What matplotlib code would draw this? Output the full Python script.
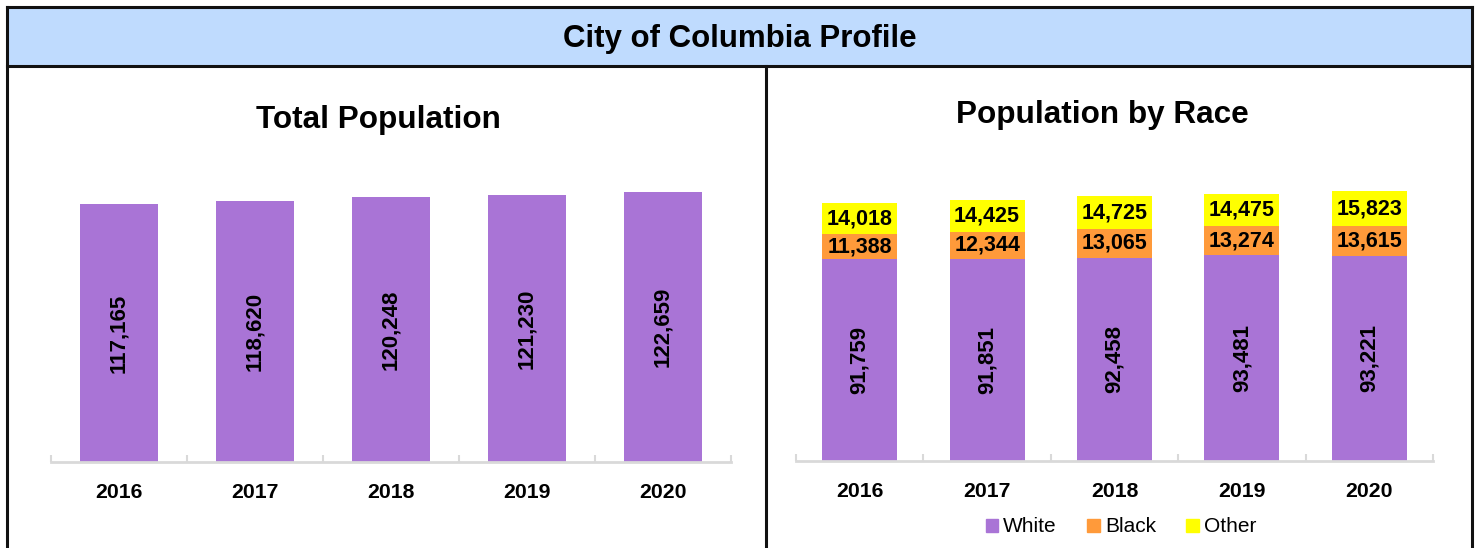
import matplotlib.pyplot as plt
from matplotlib.patches import Rectangle, Patch
from matplotlib.lines import Line2D

# ------------------------------------------
# Data
# ------------------------------------------

years = ["2016", "2017", "2018", "2019", "2020"]
total_pop = [117165, 118620, 120248, 121230, 122659]

white = [91759, 91851, 92458, 93481, 93221]
black = [11388, 12344, 13065, 13274, 13615]
other = [14018, 14425, 14725, 14475, 15823]

PURPLE = "#A974D6"
ORANGE = "#FF9A3A"
YELLOW = "#FFFF00"
BANNER = "#BFDBFE"
AXIS_GRAY = "#D9D9D9"

plt.rcParams["font.family"] = ["Liberation Sans", "DejaVu Sans"]

W, H = 1479, 548
fig = plt.figure(figsize=(W / 100, H / 100), dpi=100)


def fx(px):
    return px / W


def fy(py):
    return 1 - py / H


# ------------------------------------------
# Frame and banner
# ------------------------------------------

fig.add_artist(Rectangle((fx(7), fy(66)), fx(1472) - fx(7), fy(7) - fy(66),
                         transform=fig.transFigure, facecolor=BANNER,
                         edgecolor="none", zorder=0))
frame_lines = [
    ((7, 7), (1472, 7)),
    ((7, 66), (1472, 66)),
    ((7, 7), (7, 548)),
    ((1472, 7), (1472, 548)),
    ((766, 66), (766, 548)),
]
for (x0, y0), (x1, y1) in frame_lines:
    fig.add_artist(Line2D([fx(x0), fx(x1)], [fy(y0), fy(y1)],
                          transform=fig.transFigure, color="#111111",
                          linewidth=2.2, solid_capstyle="projecting"))

fig.text(fx(740), fy(39), "City of Columbia Profile", ha="center",
         va="center", fontsize=22.5, fontweight="bold")
fig.text(fx(378), fy(120), "Total Population", ha="center", va="center",
         fontsize=22.7, fontweight="bold")
fig.text(fx(1102), fy(115), "Population by Race", ha="center",
         va="center", fontsize=22.7, fontweight="bold")

px_per_unit = 1 / 454.5
top_px = 140
ymax = (462 - top_px) / px_per_unit


def style_axis(ax):
    for s in ["left", "right", "top"]:
        ax.spines[s].set_visible(False)
    ax.spines["bottom"].set_color(AXIS_GRAY)
    ax.spines["bottom"].set_linewidth(2)
    ax.set_yticks([])
    ax.set_xlim(-0.5, len(years) - 0.5)
    ax.set_ylim(0, ymax)
    ax.set_xticks([i for i in range(len(years))])
    ax.set_xticklabels(years, fontsize=15.3, fontweight="bold")
    ax.tick_params(axis="x", length=0, pad=15)
    ax.set_xticks([i - 0.5 for i in range(len(years) + 1)], minor=True)
    ax.tick_params(axis="x", which="minor", direction="in", length=5,
                   width=1.5, color=AXIS_GRAY)
    ax.patch.set_alpha(0)


# ------------------------------------------
# Total Population
# ------------------------------------------

ax1 = fig.add_axes([fx(51), fy(462), fx(731) - fx(51), fy(top_px) - fy(462)])
x = list(range(len(years)))
ax1.bar(x, total_pop, width=0.57, color=PURPLE)
for i, v in enumerate(total_pop):
    ax1.text(i, v / 2, f"{v:,}", rotation=90, ha="center", va="center",
             fontsize=16, fontweight="bold")
style_axis(ax1)

# ------------------------------------------
# Population by Race
# ------------------------------------------

ax2 = fig.add_axes([fx(796), fy(461), fx(1433) - fx(796), fy(top_px - 1) - fy(461)])
bottoms_b = white
bottoms_o = [w + b for w, b in zip(white, black)]
ax2.bar(x, white, width=0.59, color=PURPLE, label="White")
ax2.bar(x, black, width=0.59, bottom=bottoms_b, color=ORANGE, label="Black")
ax2.bar(x, other, width=0.59, bottom=bottoms_o, color=YELLOW, label="Other")
for i in x:
    ax2.text(i, white[i] / 2, f"{white[i]:,}", rotation=90, ha="center",
             va="center", fontsize=16, fontweight="bold")
    ax2.text(i, white[i] + black[i] / 2, f"{black[i]:,}", ha="center",
             va="center", fontsize=15.5, fontweight="bold")
    ax2.text(i, bottoms_o[i] + other[i] / 2, f"{other[i]:,}", ha="center",
             va="center", fontsize=15.5, fontweight="bold")
style_axis(ax2)

handles = [Patch(color=PURPLE, label="White"),
           Patch(color=ORANGE, label="Black"),
           Patch(color=YELLOW, label="Other")]
fig.legend(handles=handles, loc="center", bbox_to_anchor=(fx(1121), fy(527)),
           ncol=3, frameon=False, fontsize=15, handlelength=0.6,
           handleheight=0.6, handletextpad=0.25, columnspacing=1.45)

fig.savefig("out.png", dpi=100)
